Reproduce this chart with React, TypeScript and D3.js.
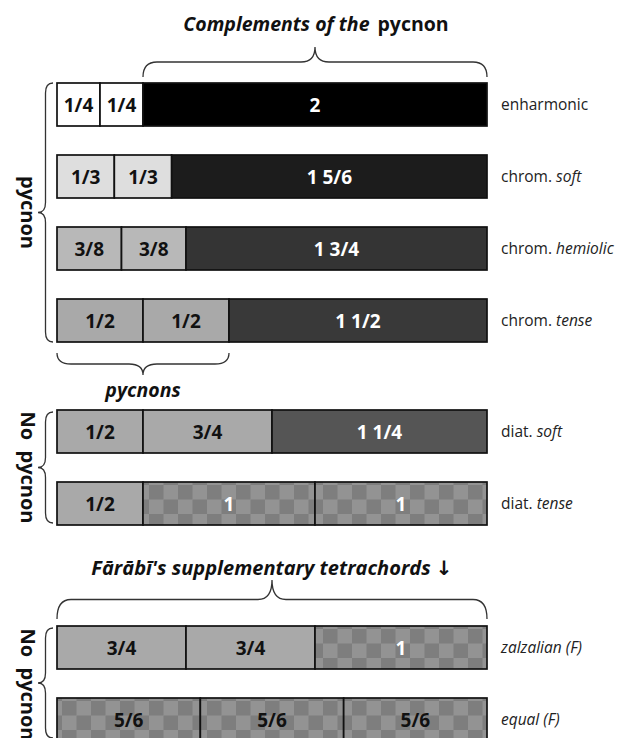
import * as d3 from "d3";

// tetrachord rows (intervals in tones, a fourth = 2 1/2 tones)
const rowPlain = ["enharmonic", "chrom. ", "chrom. ", "chrom. ", "diat. ", "diat. ", "", ""];
const rowItalic = ["", "soft", "hemiolic", "tense", "soft", "tense", "zalzalian (F)", "equal (F)"];
const rowGroup = [0, 0, 0, 0, 1, 1, 2, 2];
const intervals = [
  [1 / 4, 1 / 4, 2],
  [1 / 3, 1 / 3, 11 / 6],
  [3 / 8, 3 / 8, 7 / 4],
  [1 / 2, 1 / 2, 3 / 2],
  [1 / 2, 3 / 4, 5 / 4],
  [1 / 2, 1, 1],
  [3 / 4, 3 / 4, 1],
  [5 / 6, 5 / 6, 5 / 6],
];
const intervalLabels = [
  ["1/4", "1/4", "2"],
  ["1/3", "1/3", "1 5/6"],
  ["3/8", "3/8", "1 3/4"],
  ["1/2", "1/2", "1 1/2"],
  ["1/2", "3/4", "1 1/4"],
  ["1/2", "1", "1"],
  ["3/4", "3/4", "1"],
  ["5/6", "5/6", "5/6"],
];

// fill per row / segment
const shades = [
  ["#ffffff", "#ffffff", "#000000"],
  ["#dedede", "#dedede", "#1c1c1c"],
  ["#b8b8b8", "#b8b8b8", "#343434"],
  ["#a9a9a9", "#a9a9a9", "#393939"],
  ["#a9a9a9", "#a9a9a9", "#555555"],
  ["#a9a9a9", "url(#check)", "url(#check)"],
  ["#a9a9a9", "#a9a9a9", "url(#check)"],
  ["url(#check)", "url(#check)", "url(#check)"],
];
const whiteText = ["#000000", "#1c1c1c", "#343434", "#393939", "#555555"];

const W = 632;
const H = 738;
const barH = 43;
const groupExtra = [0, 39, 111];
const font = "'Open Sans', 'Noto Sans', sans-serif";

const x = d3.scaleLinear().domain([0, 2.5]).range([57, 487]);
const rowTop = (i: number) => 83 + 72 * i + groupExtra[rowGroup[i]];

// curly brace, horizontal (tip up or down)
function hBrace(x1: number, x2: number, yEnd: number, yTip: number) {
  const yMid = (yEnd + yTip) / 2;
  const xm = (x1 + x2) / 2;
  const r = 14;
  const p = d3.path();
  p.moveTo(x1, yEnd);
  p.quadraticCurveTo(x1, yMid, x1 + r, yMid);
  p.lineTo(xm - r, yMid);
  p.quadraticCurveTo(xm, yMid, xm, yTip);
  p.quadraticCurveTo(xm, yMid, xm + r, yMid);
  p.lineTo(x2 - r, yMid);
  p.quadraticCurveTo(x2, yMid, x2, yEnd);
  return p.toString();
}

function vBrace(y1: number, y2: number, xEnd: number, xTip: number) {
  const xMid = (xEnd + xTip) / 2;
  const ym = (y1 + y2) / 2;
  const r = 10;
  const p = d3.path();
  p.moveTo(xEnd, y1);
  p.quadraticCurveTo(xMid, y1, xMid, y1 + r);
  p.lineTo(xMid, ym - r);
  p.quadraticCurveTo(xMid, ym, xTip, ym);
  p.quadraticCurveTo(xMid, ym, xMid, ym + r);
  p.lineTo(xMid, y2 - r);
  p.quadraticCurveTo(xMid, y2, xEnd, y2);
  return p.toString();
}

export default function App() {
  const rows = intervals.map((segs, i) => {
    let acc = 0;
    return segs.map((v, j) => {
      const s = { x0: x(acc), x1: x(acc + v), label: intervalLabels[i][j], fill: shades[i][j] };
      acc += v;
      return s;
    });
  });

  const textFill = (i: number, s: { fill: string; label: string }) =>
    whiteText.includes(s.fill) || (s.fill.startsWith("url") && i < 7) ? "#fff" : "#111";

  return (
    <svg width={W} height={H} style={{ position: "absolute", left: 0, top: 0, background: "#fff" }} fontFamily={font}>
      <defs>
        <pattern id="check" width={29} height={29} patternUnits="userSpaceOnUse" x={4} y={3}>
          <rect width={29} height={29} fill="#939393" />
          <rect width={14.5} height={14.5} fill="#7e7e7e" />
          <rect x={14.5} y={14.5} width={14.5} height={14.5} fill="#7e7e7e" />
        </pattern>
      </defs>

      {/* top annotation */}
      <text x={316} y={31} textAnchor="middle" fontSize={19.5} fontWeight="bold" fill="#111">
        <tspan fontStyle="italic">Complements of the</tspan>
        <tspan dx={8}>pycnon</tspan>
      </text>
      <path d={hBrace(x(0.5), x(2.5), 77, 47)} fill="none" stroke="#333" strokeWidth={1.3} />

      {rows.map((segs, i) => (
        <g key={i} transform={`translate(0,${rowTop(i)})`}>
          {segs.map((s, j) => (
            <g key={j}>
              <rect x={s.x0} y={0} width={s.x1 - s.x0} height={barH} fill={s.fill} stroke="#111" strokeWidth={1.7} />
              <text
                x={(s.x0 + s.x1) / 2}
                y={barH / 2 + 7}
                textAnchor="middle"
                fontSize={19}
                fontWeight="bold"
                fill={textFill(i, s)}
              >
                {s.label}
              </text>
            </g>
          ))}
          <text x={501} y={barH / 2 + 5.5} fontSize={15.5} fill="#222">
            {rowPlain[i]}
            <tspan fontStyle="italic">{rowItalic[i]}</tspan>
          </text>
        </g>
      ))}

      {/* pycnons brace under chrom. tense */}
      <path d={hBrace(x(0), x(1), 353, 375)} fill="none" stroke="#333" strokeWidth={1.3} />
      <text x={x(0.5)} y={397} textAnchor="middle" fontSize={19.5} fontWeight="bold" fontStyle="italic" fill="#111">
        pycnons
      </text>

      {/* Farabi annotation */}
      <text x={x(1.25)} y={575} textAnchor="middle" fontSize={20} fontWeight="bold" fontStyle="italic" fill="#111">
        Fārābī's supplementary tetrachords{" "}
        <tspan fontFamily="'DejaVu Sans', sans-serif" fontSize={20} fontStyle="normal" fill="#111">↓</tspan>
      </text>
      <path d={hBrace(x(0), x(2.5), 619, 580)} fill="none" stroke="#333" strokeWidth={1.3} />

      {/* left braces */}
      <path d={vBrace(rowTop(0), rowTop(3) + barH, 53, 38)} fill="none" stroke="#333" strokeWidth={1.3} />
      <text transform={`translate(21,${(rowTop(0) + rowTop(3) + barH) / 2}) rotate(90)`} textAnchor="middle" fontSize={20} fontWeight="bold" fill="#111">
        pycnon
      </text>
      <path d={vBrace(rowTop(4) + 2, rowTop(5) + barH - 2, 53, 38)} fill="none" stroke="#333" strokeWidth={1.3} />
      <text transform={`translate(21,${(rowTop(4) + rowTop(5) + barH) / 2}) rotate(90)`} textAnchor="middle" fontSize={20} fontWeight="bold" fill="#111" style={{ whiteSpace: "pre" }}>
        {"No  pycnon"}
      </text>
      <path d={vBrace(rowTop(6) + 2, rowTop(7) + barH - 3, 53, 38)} fill="none" stroke="#333" strokeWidth={1.3} />
      <text transform={`translate(21,${(rowTop(6) + rowTop(7) + barH) / 2 + 1}) rotate(90)`} textAnchor="middle" fontSize={20} fontWeight="bold" fill="#111" style={{ whiteSpace: "pre" }}>
        {"No  pycnon"}
      </text>
    </svg>
  );
}
